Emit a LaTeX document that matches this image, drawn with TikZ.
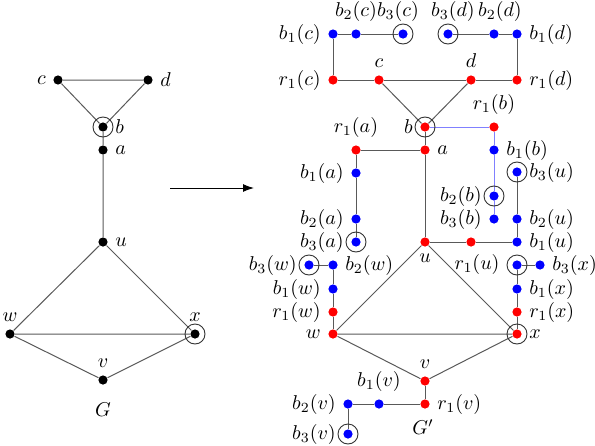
\documentclass[tikz,border=0pt]{standalone}
\usepackage{amsmath}
\usepackage{tikz}
\usetikzlibrary{arrows.meta}
\definecolor{gline}{gray}{0.35}
\definecolor{bline}{HTML}{8080FF}

\begin{document}
\begin{tikzpicture}[x=0.5pt, y=-0.5pt, line width=0.5pt,
  kv/.style={circle, fill=black, inner sep=0pt, minimum size=4.6pt},
  rv/.style={kv, fill=red},
  bv/.style={kv, fill=blue},
  ringed/.style={label distance=2.2pt},
  link/.style={draw=gline},
  blink/.style={draw=bline},
  ringc/.style={draw=black!80, line width=0.45pt}]
  \useasboundingbox (0,0) rectangle (595,445);

  % the graph G
  \foreach \n/\x/\y/\s/\t in {c/58/80/left/c, d/148/80/right/d, a/103/150/right/a,
      u/103/242/right/u, w/10/334/above/w, v/103/380/above/v}
    {\node[kv, label={\s:$\t$}] (g\n) at (\x,\y) {};}
  \node[kv, ringed, label={right:$b$}] (gb) at (103,127) {};
  \node[kv, ringed, label={above:$x$}] (gx) at (195,334) {};
  \draw[link] (gc) -- (gd) -- (gb) -- (gc);
  \draw[link] (gb) -- (ga) -- (gu) -- (gw) -- (gx) -- (gu);
  \draw[link] (gw) -- (gv) -- (gx);
  \foreach \n in {gb,gx} \draw[ringc] (\n) circle[radius=5pt];
  \node (lblG) at (103,410) {$G$};

  \coordinate (arrS) at (170,188);
  \coordinate (arrE) at (254,188);
  \draw[-{Latex[length=5.5pt,width=4pt]}] (arrS) -- (arrE);

  % the graph G' : red vertices
  \foreach \n/\x/\y/\s/\t in {r1c/333/80/left/r_1(c), c/379/80/above/c, d/471/80/above/d,
      r1d/517/80/right/r_1(d), r1b/494/127/above/r_1(b), a/425/150/right/a,
      r1a/356/150/above/r_1(a), u/425/242/below/u, r1w/333/312/left/r_1(w),
      w/333/334/left/w, v/425/381/above/v, r1v/425/404/right/r_1(v),
      r1x/517/312/right/r_1(x)}
    {\node[rv, label={\s:$\t$}] (\n) at (\x,\y) {};}
  \node[rv, label={[xshift=3pt]below:$r_1(u)$}] (r1u) at (471,242) {};
  \node[rv, ringed, label={left:$b$}] (b) at (425,127) {};
  \node[rv, ringed, label={right:$x$}] (x) at (517,334) {};

  % blue vertices
  \foreach \n/\x/\y/\s/\t in {b1c/333/34/left/b_1(c), b2c/356/34/above/b_2(c),
      b1d/517/34/right/b_1(d), b1a/356/173/left/b_1(a),
      b2a/356/219/left/b_2(a), b1b/494/150/right/b_1(b), b3b/494/219/left/b_3(b),
      b2u/517/219/right/b_2(u), b1u/517/242/right/b_1(u), b2w/333/265/right/b_2(w),
      b1w/333/289/left/b_1(w), b3x/540/265/right/b_3(x), b1x/517/289/right/b_1(x),
      b1v/379/404/above/b_1(v), b2v/348/404/left/b_2(v)}
    {\node[bv, label={\s:$\t$}] (\n) at (\x,\y) {};}
  \node[bv, label={[xshift=3pt]above:$b_2(d)$}] (b2d) at (494,34) {};
  \foreach \n/\x/\y/\s/\t in {b3a/356/242/left/b_3(a), b2b/494/196/left/b_2(b),
      b3u/517/172/right/b_3(u), b3w/309/265/left/b_3(w), b3v/348/434/left/b_3(v)}
    {\node[bv, ringed, label={\s:$\t$}] (\n) at (\x,\y) {};}
  \node[bv, ringed, label={[xshift=-2.5pt]above:$b_3(c)$}] (b3c) at (403,34) {};
  \node[bv, ringed, label={[xshift=2.5pt]above:$b_3(d)$}] (b3d) at (448,34) {};
  \node[bv] (b2x) at (517,265) {};

  \draw[link] (r1c) -- (c) -- (d) -- (r1d);
  \draw[link] (c) -- (b) -- (d);
  \draw[link] (b) -- (a) -- (u);
  \draw[link] (a) -- (r1a) -- (b1a) -- (b2a) -- (b3a);
  \draw[link] (r1c) -- (b1c) -- (b2c) -- (b3c);
  \draw[link] (r1d) -- (b1d) -- (b2d) -- (b3d);
  \draw[link] (u) -- (r1u) -- (b1u) -- (b2u) -- (b3u);
  \draw[link] (u) -- (w) -- (x) -- (u);
  \draw[link] (w) -- (v) -- (x);
  \draw[link] (w) -- (r1w) -- (b1w) -- (b2w) -- (b3w);
  \draw[link] (x) -- (r1x) -- (b1x) -- (b2x) -- (b3x);
  \draw[link] (v) -- (r1v) -- (b1v) -- (b2v) -- (b3v);
  \draw[blink] (b) -- (r1b) -- (b1b) -- (b2b) -- (b3b);
  \foreach \n in {b,x,b3c,b3d,b3a,b2b,b3u,b3w,b2x,b3v}
    \draw[ringc] (\n) circle[radius=5pt];
  \node (lblGp) at (423,427) {$G'$};
\end{tikzpicture}
\end{document}
